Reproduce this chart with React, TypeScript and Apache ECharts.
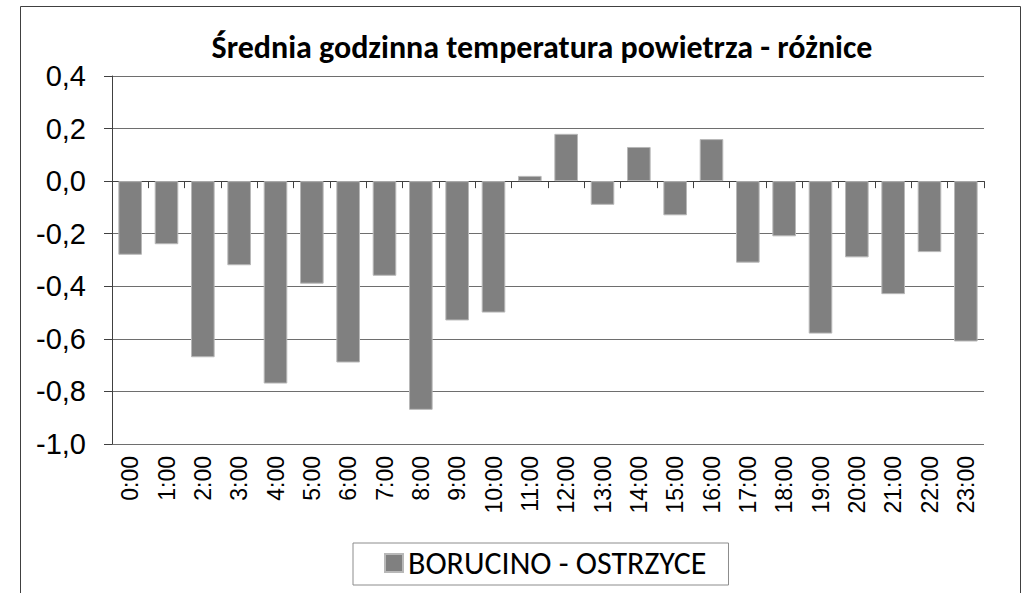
import React, { useEffect, useRef } from "react";
import * as echarts from "echarts";

const categories = [
  "0:00", "1:00", "2:00", "3:00", "4:00", "5:00", "6:00", "7:00", "8:00", "9:00", "10:00", "11:00",
  "12:00", "13:00", "14:00", "15:00", "16:00", "17:00", "18:00", "19:00", "20:00", "21:00", "22:00", "23:00",
];
const seriesName = "BORUCINO - OSTRZYCE";
const values = [
  -0.28, -0.24, -0.67, -0.32, -0.77, -0.39, -0.69, -0.36, -0.87, -0.53, -0.5, 0.02,
  0.18, -0.09, 0.13, -0.13, 0.16, -0.31, -0.21, -0.58, -0.29, -0.43, -0.27, -0.61,
];
const titleText = "Średnia godzinna temperatura powietrza - różnice";
const yMin = -1.0;
const yMax = 0.4;
const yStep = 0.2;

export default function App() {
  const ref = useRef<HTMLDivElement>(null);
  useEffect(() => {
    if (!ref.current) return;
    const chart = echarts.init(ref.current, undefined, { renderer: "svg" });
    const calibri = "Carlito, 'Open Sans', sans-serif";
    const arial = "'Liberation Sans', Arial, sans-serif";
    chart.setOption({
      animation: false,
      backgroundColor: "#ffffff",
      title: {
        text: titleText,
        left: 542,
        top: 31,
        textAlign: "center",
        padding: 0,
        textStyle: { fontFamily: calibri, fontWeight: "bold", fontSize: 32, lineHeight: 32, color: "#000" },
      },
      graphic: [
        {
          type: "rect",
          shape: { x: 20.5, y: 6.5, width: 1000, height: 620 },
          style: { fill: "none", stroke: "#404040", lineWidth: 1 },
          silent: true,
          z: -1,
        },
      ],
      legend: {
        left: 353,
        top: 543,
        orient: "horizontal",
        padding: [4, 22, 6, 31],
        borderColor: "#8c8c8c",
        borderWidth: 1,
        backgroundColor: "#fff",
        itemWidth: 18,
        itemHeight: 18,
        icon: "rect",
        textStyle: { fontFamily: calibri, fontSize: 32, color: "#000", lineHeight: 21 },
        data: [seriesName],
      },
      grid: { left: 112, right: 43, top: 76, bottom: 149, containLabel: false },
      xAxis: {
        type: "category",
        data: categories,
        axisLine: { lineStyle: { color: "#404040", width: 1 } },
        axisTick: { show: true, length: 7, lineStyle: { color: "#404040" } },
        axisLabel: { rotate: 90, fontFamily: arial, fontSize: 23, color: "#000", margin: 12, interval: 0 },
        splitLine: { show: false },
      },
      yAxis: {
        type: "value",
        min: yMin,
        max: yMax,
        interval: yStep,
        axisLine: { show: true, lineStyle: { color: "#404040", width: 1 } },
        axisTick: { show: true, length: 8, lineStyle: { color: "#404040" } },
        axisLabel: {
          fontFamily: arial,
          fontSize: 29,
          color: "#000",
          margin: 26,
          formatter: (v: number) => {
            const r = Math.abs(v) < 1e-9 ? 0 : v;
            return r.toFixed(1).replace(".", ",");
          },
        },
        splitLine: { show: true, lineStyle: { color: "#6e6e6e", width: 1 } },
      },
      series: [
        {
          name: seriesName,
          type: "bar",
          data: values,
          barCategoryGap: "35%",
          itemStyle: { color: "#808080", borderColor: "#b8b8b8", borderWidth: 1 },
        },
      ],
    });
    return () => chart.dispose();
  }, []);
  return <div ref={ref} style={{ position: "fixed", left: 0, top: 0, width: 1027, height: 593 }} />;
}
